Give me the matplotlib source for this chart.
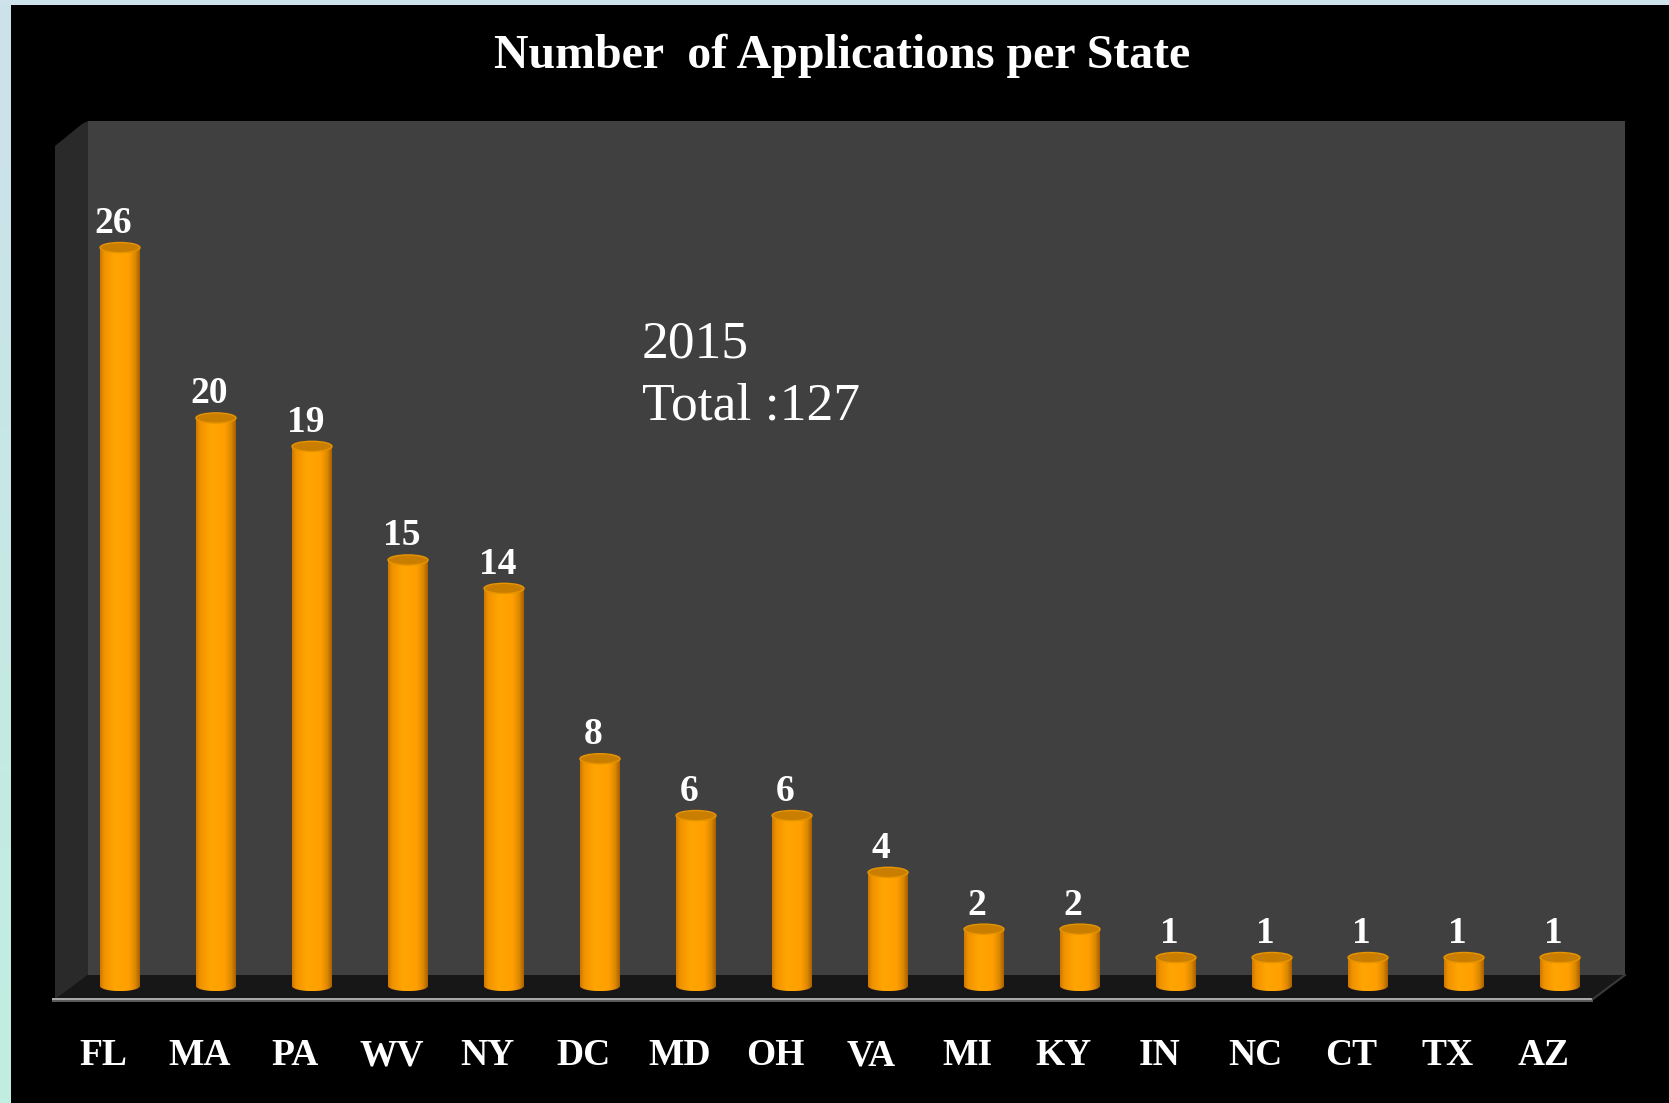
import numpy as np
import matplotlib
matplotlib.use("Agg")
import matplotlib.pyplot as plt
from matplotlib.patches import Polygon, Ellipse, PathPatch, Rectangle
from matplotlib.path import Path
from matplotlib.colors import LinearSegmentedColormap

# ---- data ----
states = ["FL", "MA", "PA", "WV", "NY", "DC", "MD", "OH", "VA", "MI", "KY", "IN", "NC", "CT", "TX", "AZ"]
counts = [26, 20, 19, 15, 14, 8, 6, 6, 4, 2, 2, 1, 1, 1, 1, 1]
title = "Number  of Applications per State"
note_year = "2015"
note_total = "Total :127"

W, H = 1669, 1103
fig = plt.figure(figsize=(W / 100, H / 100), dpi=100)
fig.patch.set_facecolor("black")
SERIF = ["Liberation Serif", "DejaVu Serif"]

# ---- background / 3D box (pixel coordinates) ----
bg = fig.add_axes([0, 0, 1, 1], zorder=0)
bg.axis("off")
grad = np.linspace(0, 1, 256)[:, None]
border_cmap = LinearSegmentedColormap.from_list("b", ["#cde1ea", "#c0eee0"])
bg.imshow(grad, extent=(0, 10, H, 0), cmap=border_cmap, aspect="auto", zorder=1)
bg.add_patch(Rectangle((0, 0), W, 5, color="#cde2ea", lw=0, zorder=1))
bg.set_xlim(0, W)
bg.set_ylim(H, 0)

# back wall
bg.add_patch(Polygon([(88, 121), (1625, 121), (1625, 975), (88, 975)], closed=True,
                     facecolor="#404040", edgecolor="none", zorder=2))
# left side wall
bg.add_patch(Polygon([(55, 146), (82, 124), (88, 121), (88, 975), (55, 1000)], closed=True,
                     facecolor="#2a2a2a", edgecolor="none", zorder=2))
# floor
bg.add_patch(Polygon([(55, 999), (88, 975), (1625, 975), (1593, 999)], closed=True,
                     facecolor="#171717", edgecolor="none", zorder=3))
# front edge of floor
bg.add_patch(Polygon([(52, 998), (1593, 998), (1593, 1000), (52, 1000)], closed=True,
                     facecolor="#a8a8a8", edgecolor="none", zorder=4))
bg.add_patch(Polygon([(52, 1000), (1593, 1000), (1593, 1002), (52, 1002)], closed=True,
                     facecolor="#5a5a5a", edgecolor="none", zorder=4))
bg.plot([1593, 1625], [999, 975], color="#3a3a3a", lw=1.5, zorder=4)

# ---- data axes ----
zero_px, top_px = 986.0, 134.0
ppu = (zero_px - top_px) / 30.0
ymin = -0.5
bottom_px = zero_px - ymin * ppu
left_px, right_px = 72.0, 1608.0
ax = fig.add_axes([left_px / W, (H - bottom_px) / H, (right_px - left_px) / W, (bottom_px - top_px) / H],
                  zorder=1)
ax.axis("off")

x = np.arange(len(states))
bw = 0.4167
eh = 0.36

cyl_cmap = LinearSegmentedColormap.from_list(
    "cyl",
    [(0.0, "#d07800"), (0.1, "#f09200"), (0.35, "#ffa500"), (0.7, "#ffa000"),
     (0.86, "#e08800"), (1.0, "#9a5a00")])
hgrad = np.linspace(0, 1, 200)[None, :]

bars = ax.bar(x, counts, width=bw, color="#ffa000", zorder=2, linewidth=0)
for xi, v in zip(x, counts):
    x0, x1 = xi - bw / 2, xi + bw / 2
    t = np.linspace(np.pi, 2 * np.pi, 40)
    verts = [(x0, v), (x0, 0)] + [(xi + bw / 2 * np.cos(a), eh / 2 * np.sin(a)) for a in t] + [(x1, v), (x0, v)]
    codes = [Path.MOVETO] + [Path.LINETO] * (len(verts) - 2) + [Path.CLOSEPOLY]
    clip = PathPatch(Path(verts, codes), transform=ax.transData, facecolor="none", edgecolor="none")
    ax.add_patch(clip)
    im = ax.imshow(hgrad, extent=(x0, x1, -eh / 2, v), cmap=cyl_cmap, aspect="auto",
                   interpolation="bilinear", zorder=3)
    im.set_clip_path(clip)
    ax.add_patch(Ellipse((xi, v), bw, eh, facecolor="#c97e00", edgecolor="#e69400",
                         lw=1.0, zorder=4))
    ax.annotate(str(v), xy=(xi - 0.07, v), xytext=(0, 10.5), textcoords="offset points",
                ha="center", va="baseline", color="white", fontsize=27, fontweight="bold",
                family=SERIF, zorder=5, annotation_clip=False)

# category labels (shifted slightly left as in the original)
for xi, s in zip(x, states):
    ax.annotate(s, xy=(xi, 0), xytext=(-12, -57), textcoords="offset points",
                ha="center", va="baseline", color="white", fontsize=27, fontweight="bold",
                family=SERIF, annotation_clip=False)

ax.set_xlim(-0.5, len(states) - 0.5)
ax.set_ylim(ymin, 30)

# ---- texts ----
bg.text(842, 56, title, ha="center", va="center", color="white", fontsize=34.5,
        fontweight="bold", family=SERIF, zorder=6)
bg.text(642, 357, note_year, ha="left", va="baseline", color="white", fontsize=38.5,
        family=SERIF, zorder=6)
bg.text(642, 420, note_total, ha="left", va="baseline", color="white", fontsize=38.5,
        family=SERIF, zorder=6)

fig.savefig("out.png", dpi=100, facecolor=fig.get_facecolor())
